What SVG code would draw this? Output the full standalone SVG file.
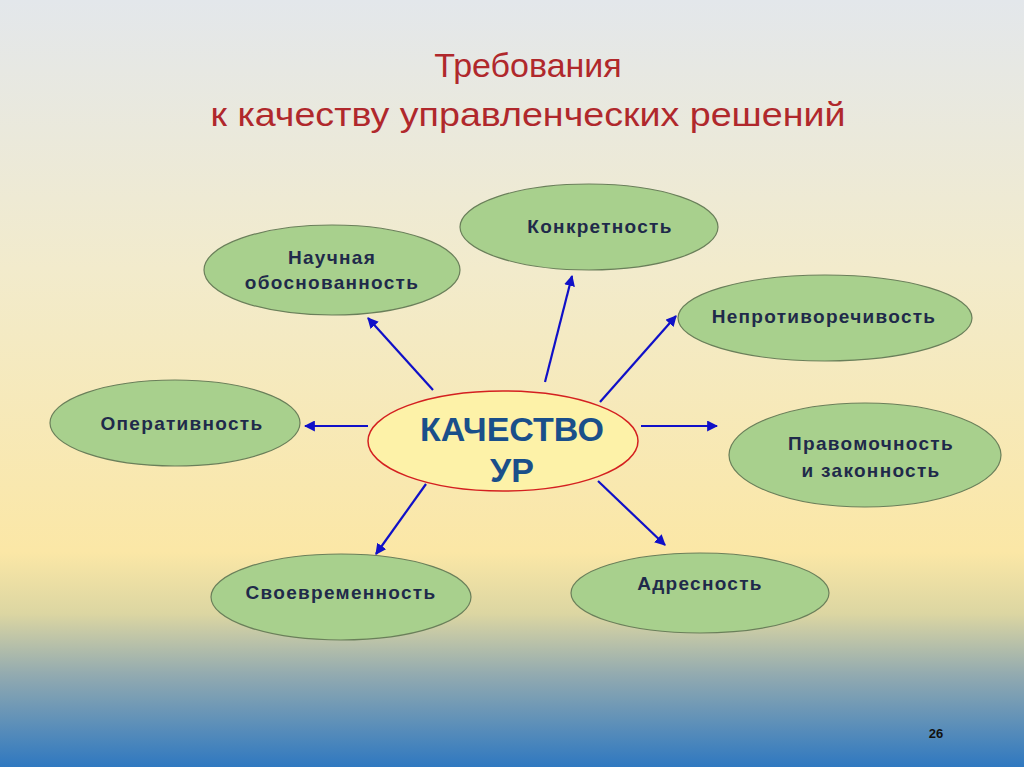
<svg xmlns="http://www.w3.org/2000/svg" width="1024" height="767" viewBox="0 0 1024 767">
<defs>
<linearGradient id="bg" x1="0" y1="0" x2="0" y2="1">
<stop offset="0" stop-color="#e3e7eb"/>
<stop offset="0.35" stop-color="#f2ebcc"/>
<stop offset="0.72" stop-color="#fbe7a6"/>
<stop offset="0.8" stop-color="#dcd6a2"/>
<stop offset="0.88" stop-color="#92aab0"/>
<stop offset="1" stop-color="#2f78c0"/>
</linearGradient>
<marker id="ah" viewBox="0 0 10 10" refX="9" refY="5" markerWidth="5" markerHeight="5" orient="auto"><path d="M0,0 L10,5 L0,10 z" fill="#1010c8"/></marker>
<style>
.n{fill:#a8d08d;stroke:#6a7f5a;stroke-width:1.2}
.t{font-family:"Liberation Sans",Arial,sans-serif;font-weight:bold;font-size:19px;letter-spacing:1.3px;fill:#1f2a4a;text-anchor:middle}
.c line{stroke:#1010c8;stroke-width:2.2;marker-end:url(#ah)}
</style>
</defs>
<rect width="1024" height="767" fill="url(#bg)"/>
<g font-family="Liberation Sans, Arial, sans-serif" font-size="34" fill="#b0282c" text-anchor="middle">
<text x="528" y="77">Требования</text>
<text x="528" y="126" textLength="635" lengthAdjust="spacingAndGlyphs">к качеству управленческих решений</text>
</g>
<g class="c">
<line x1="433" y1="390" x2="368" y2="318"/>
<line x1="545" y1="382" x2="572" y2="276"/>
<line x1="600" y1="402" x2="676" y2="316"/>
<line x1="368" y1="426" x2="305" y2="426"/>
<line x1="641" y1="426" x2="717" y2="426"/>
<line x1="426" y1="484" x2="376" y2="554"/>
<line x1="598" y1="481" x2="665" y2="545"/>
</g>
<g id="center"><ellipse cx="503" cy="441" rx="135" ry="50" fill="#fdf2a8" stroke="#d42020" stroke-width="1.5"/>
<text x="512" y="441" font-family="Liberation Sans, Arial, sans-serif" font-weight="bold" font-size="34" fill="#1a4f8a" text-anchor="middle">КАЧЕСТВО</text>
<text x="512" y="482" font-family="Liberation Sans, Arial, sans-serif" font-weight="bold" font-size="34" fill="#1a4f8a" text-anchor="middle">УР</text></g>
<g id="n1"><ellipse class="n" cx="332" cy="270" rx="128" ry="45"/><text class="t" x="332" y="264">Научная</text><text class="t" x="332" y="289">обоснованность</text></g>
<g id="n2"><ellipse class="n" cx="589" cy="227" rx="129" ry="43"/><text class="t" x="600" y="233">Конкретность</text></g>
<g id="n3"><ellipse class="n" cx="825" cy="318" rx="147" ry="43"/><text class="t" x="824" y="323">Непротиворечивость</text></g>
<g id="n4"><ellipse class="n" cx="175" cy="423" rx="125" ry="43"/><text class="t" x="182" y="430">Оперативность</text></g>
<g id="n5"><ellipse class="n" cx="865" cy="455" rx="136" ry="52"/><text class="t" x="871" y="450">Правомочность</text><text class="t" x="871" y="477">и законность</text></g>
<g id="n6"><ellipse class="n" cx="341" cy="597" rx="130" ry="43"/><text class="t" x="341" y="599">Своевременность</text></g>
<g id="n7"><ellipse class="n" cx="700" cy="593" rx="129" ry="40"/><text class="t" x="700" y="590">Адресность</text></g>
<text x="936" y="738" font-family="Liberation Sans, Arial, sans-serif" font-weight="bold" font-size="13" fill="#111" text-anchor="middle">26</text>
</svg>
